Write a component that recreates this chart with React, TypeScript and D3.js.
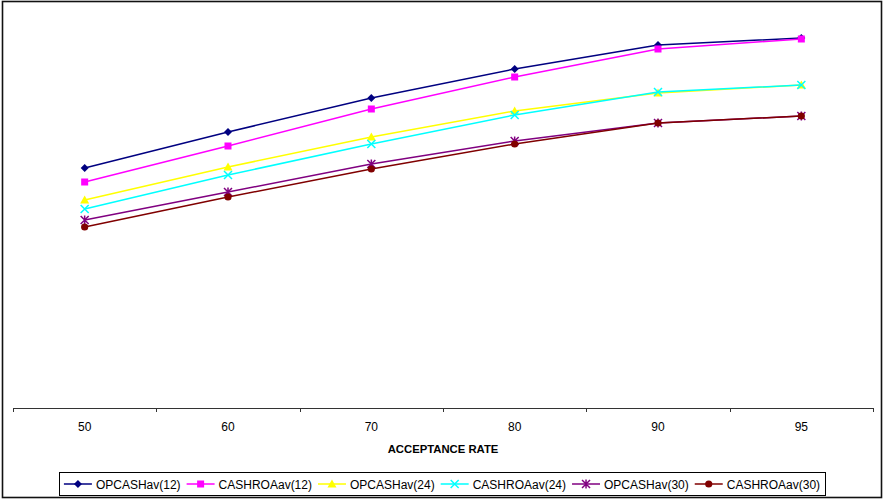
import React, { useEffect, useRef } from "react";
import * as d3 from "d3";

const categories = ["50", "60", "70", "80", "90", "95"];

const seriesNames = [
  "OPCASHav(12)",
  "CASHROAav(12)",
  "OPCASHav(24)",
  "CASHROAav(24)",
  "OPCASHav(30)",
  "CASHROAav(30)",
];

const opcash12 = [1.2, 1.38, 1.55, 1.695, 1.815, 1.85];
const cashroa12 = [1.13, 1.31, 1.495, 1.655, 1.795, 1.845];
const opcash24 = [1.04, 1.205, 1.355, 1.485, 1.575, 1.615];
const cashroa24 = [0.995, 1.165, 1.32, 1.465, 1.58, 1.615];
const opcash30 = [0.94, 1.08, 1.22, 1.335, 1.425, 1.46];
const cashroa30 = [0.905, 1.055, 1.195, 1.32, 1.425, 1.46];

const seriesValues = [opcash12, cashroa12, opcash24, cashroa24, opcash30, cashroa30];
const seriesColors = ["#000080", "#FF00FF", "#FFFF00", "#00FFFF", "#800080", "#800000"];
const seriesMarkers = ["diamond", "square", "triangle", "cross", "star", "circle"];

const W = 883;
const H = 500;
const FONT = "Arial, 'Liberation Sans', sans-serif";

function drawMarker(g: any, kind: string, x: number, y: number, color: string) {
  if (kind === "diamond") {
    g.append("path")
      .attr("d", `M${x},${y - 4}L${x + 4},${y}L${x},${y + 4}L${x - 4},${y}Z`)
      .attr("fill", color);
  } else if (kind === "square") {
    g.append("rect").attr("x", x - 3.5).attr("y", y - 3.5).attr("width", 7).attr("height", 7).attr("fill", color);
  } else if (kind === "triangle") {
    g.append("path")
      .attr("d", `M${x},${y - 4.5}L${x + 4.5},${y + 3.5}L${x - 4.5},${y + 3.5}Z`)
      .attr("fill", color);
  } else if (kind === "cross") {
    g.append("path")
      .attr("d", `M${x - 4},${y - 4}L${x + 4},${y + 4}M${x - 4},${y + 4}L${x + 4},${y - 4}`)
      .attr("stroke", color)
      .attr("stroke-width", 1.5)
      .attr("fill", "none");
  } else if (kind === "star") {
    g.append("path")
      .attr(
        "d",
        `M${x - 4},${y - 4}L${x + 4},${y + 4}M${x - 4},${y + 4}L${x + 4},${y - 4}M${x},${y - 4.5}L${x},${y + 4.5}`
      )
      .attr("stroke", color)
      .attr("stroke-width", 1.5)
      .attr("fill", "none");
  } else {
    g.append("circle").attr("cx", x).attr("cy", y).attr("r", 3.6).attr("fill", color);
  }
}

export default function App() {
  const ref = useRef<SVGSVGElement | null>(null);

  useEffect(() => {
    const svg = d3.select(ref.current);
    svg.selectAll("*").remove();

    svg.append("rect").attr("width", W).attr("height", H).attr("fill", "#fff");
    svg
      .append("rect")
      .attr("x", 2.5)
      .attr("y", 1.5)
      .attr("width", 879)
      .attr("height", 496)
      .attr("fill", "none")
      .attr("stroke", "#111")
      .attr("stroke-width", 1.6);

    const x = d3.scaleBand().domain(categories).range([13, 873]);
    const y = d3.scaleLinear().domain([0, 2]).range([408, 8]);

    // category axis
    const axis = svg.append("g");
    axis
      .append("line")
      .attr("x1", 13)
      .attr("x2", 873)
      .attr("y1", 408.5)
      .attr("y2", 408.5)
      .attr("stroke", "#333")
      .attr("stroke-width", 1);
    const tickPos = categories.map((c) => x(c)!).concat([x.range()[1]]);
    tickPos.forEach((t) => {
      axis
        .append("line")
        .attr("x1", Math.round(t) + 0.5)
        .attr("x2", Math.round(t) + 0.5)
        .attr("y1", 408)
        .attr("y2", 412)
        .attr("stroke", "#333");
    });
    categories.forEach((c) => {
      axis
        .append("text")
        .attr("x", x(c)! + x.bandwidth() / 2)
        .attr("y", 431)
        .attr("text-anchor", "middle")
        .attr("font-family", FONT)
        .attr("font-size", 12)
        .attr("fill", "#000")
        .text(c);
    });
    svg
      .append("text")
      .attr("x", 443)
      .attr("y", 453)
      .attr("text-anchor", "middle")
      .attr("font-family", FONT)
      .attr("font-size", 11.3)
      .attr("font-weight", "bold")
      .text("ACCEPTANCE RATE");

    // series lines and markers
    const line = d3
      .line<number>()
      .x((_, i) => x(categories[i])! + x.bandwidth() / 2)
      .y((v) => y(v));
    seriesValues.forEach((vals, si) => {
      const g = svg.append("g");
      g.append("path")
        .attr("d", line(vals)!)
        .attr("fill", "none")
        .attr("stroke", seriesColors[si])
        .attr("stroke-width", 1.5);
      vals.forEach((v, i) => {
        drawMarker(g, seriesMarkers[si], x(categories[i])! + x.bandwidth() / 2, y(v), seriesColors[si]);
      });
    });

    // legend
    const legend = svg.append("g");
    const box = legend
      .append("rect")
      .attr("y", 472.5)
      .attr("height", 23)
      .attr("fill", "#fff")
      .attr("stroke", "#000")
      .attr("stroke-width", 1);
    const items = legend.append("g");
    let cx = 0;
    seriesNames.forEach((name, si) => {
      const it = items.append("g").attr("transform", `translate(${cx},0)`);
      it.append("line")
        .attr("x1", 0)
        .attr("x2", 28)
        .attr("y1", 484)
        .attr("y2", 484)
        .attr("stroke", seriesColors[si])
        .attr("stroke-width", 1.5);
      drawMarker(it, seriesMarkers[si], 14, 484, seriesColors[si]);
      const t = it
        .append("text")
        .attr("x", 32)
        .attr("y", 488.5)
        .attr("font-family", FONT)
        .attr("font-size", 12)
        .attr("fill", "#000")
        .text(name);
      const tw = (t.node() as SVGTextElement).getComputedTextLength();
      cx += 32 + tw + 6;
    });
    const total = cx - 6;
    const start = 442 - total / 2;
    items.attr("transform", `translate(${start},0)`);
    box.attr("x", Math.round(start - 5) + 0.5).attr("width", Math.round(total + 10));
  }, []);

  return (
    <svg
      ref={ref}
      width={W}
      height={H}
      style={{ position: "absolute", left: 0, top: 0, display: "block" }}
    />
  );
}
